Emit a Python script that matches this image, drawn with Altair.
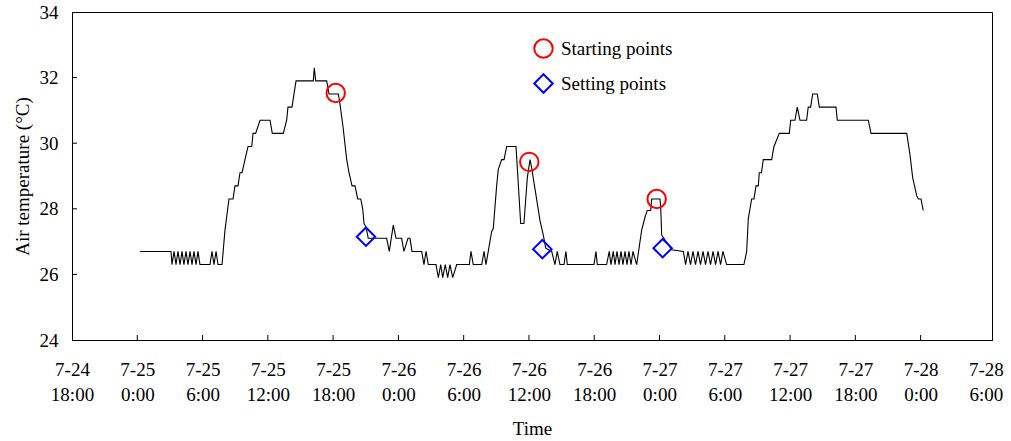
import altair as alt
import pandas as pd

# Hours counted from 7-24 18:00
line_hours = [6.25, 9.10, 9.19, 9.38, 9.56, 9.74, 9.93, 10.11, 10.29, 10.48, 10.66, 10.85, 11.03, 11.21,
              11.40, 11.58, 11.76, 12.68, 12.87, 13.05, 13.24, 13.42, 13.79, 14.06, 14.43, 14.80, 14.98,
              15.26, 15.44, 15.63, 15.90, 16.18, 16.52, 16.64, 16.88, 17.28, 18.20, 18.41, 19.42, 19.73,
              19.85, 20.22, 20.59, 22.18, 22.27, 22.40, 23.41, 23.62, 24.48, 24.63, 24.91, 25.25, 25.46,
              25.74, 26.01, 26.26, 26.54, 26.72, 26.84, 27.02, 27.23, 28.92, 29.16, 29.53, 29.78, 30.30,
              30.51, 30.88, 31.07, 31.25, 32.14, 32.35, 32.54, 32.75, 33.46, 33.67, 33.89, 34.07, 34.31,
              34.53, 34.74, 34.99, 35.36, 36.52, 36.67, 36.88, 37.66, 37.87, 38.05, 38.26, 38.57, 38.72,
              39.03, 39.18, 39.49, 39.71, 39.95, 40.81, 40.93, 41.24, 41.54, 41.85, 42.10, 42.25, 42.56,
              43.01, 43.32, 43.54, 44.09, 44.39, 44.60, 44.85, 45.22, 45.40, 45.52, 47.98, 48.16, 48.28,
              49.14, 49.38, 49.54, 49.75, 49.91, 50.09, 50.28, 50.46, 50.64, 50.83, 51.01, 51.19, 51.38,
              51.56, 51.90, 52.36, 52.67, 52.88, 53.19, 53.28, 54.04, 54.11, 54.20, 55.12, 56.19, 56.40,
              56.62, 56.85, 57.08, 57.31, 57.54, 57.77, 58.00, 58.23, 58.46, 58.69, 58.92, 59.15, 59.38,
              59.61, 59.83, 60.17, 61.76, 62.01, 62.16, 62.47, 62.68, 62.87, 63.08, 63.17, 63.37, 63.54,
              64.31, 64.52, 65.01, 65.93, 66.06, 66.45, 66.66, 66.91, 67.52, 67.67, 67.89, 68.08, 68.50,
              68.69, 70.22, 70.34, 73.19, 73.44, 76.72, 77.02, 77.27, 77.64, 77.79, 78.03, 78.24]
line_temp = [26.7, 26.7, 26.3, 26.7, 26.3, 26.7, 26.3, 26.7, 26.3, 26.7, 26.3, 26.7, 26.3, 26.7,
             26.3, 26.7, 26.3, 26.3, 26.7, 26.3, 26.7, 26.3, 26.3, 27.35, 28.3, 28.3, 28.7,
             28.7, 29.1, 29.1, 29.5, 29.9, 29.9, 30.3, 30.3, 30.7, 30.7, 30.3, 30.3, 30.7,
             31.1, 31.1, 31.9, 31.9, 32.3, 31.9, 31.9, 31.5, 31.5, 31.2, 30.5, 29.5, 29.1,
             28.7, 28.7, 28.3, 28.3, 28.0, 27.55, 27.45, 27.1, 27.1, 26.7, 27.5, 27.1, 27.1,
             26.7, 27.1, 27.1, 26.7, 26.7, 26.3, 26.7, 26.3, 26.3, 25.9, 26.3, 25.9, 26.3,
             25.9, 26.3, 25.9, 26.3, 26.3, 26.7, 26.3, 26.3, 26.7, 26.3, 26.7, 27.3, 27.4,
             28.7, 29.2, 29.5, 29.5, 29.9, 29.9, 29.25, 27.55, 27.55, 28.95, 29.5, 29.25, 28.6,
             27.65, 27.2, 26.8, 26.7, 26.3, 26.7, 26.3, 26.3, 26.7, 26.3, 26.3, 26.7, 26.3,
             26.3, 26.7, 26.3, 26.7, 26.3, 26.7, 26.3, 26.7, 26.3, 26.7, 26.3, 26.7, 26.3,
             26.7, 26.3, 27.35, 27.75, 27.95, 27.95, 28.3, 28.3, 28.05, 27.2, 26.75, 26.7, 26.3,
             26.7, 26.3, 26.7, 26.3, 26.7, 26.3, 26.7, 26.3, 26.7, 26.3, 26.7, 26.3, 26.7,
             26.3, 26.7, 26.3, 26.3, 26.7, 27.7, 28.3, 28.3, 28.7, 28.7, 29.1, 29.1, 29.5,
             29.5, 29.9, 30.3, 30.3, 30.7, 30.7, 31.1, 30.7, 30.7, 31.1, 31.1, 31.5, 31.5,
             31.1, 31.1, 30.7, 30.7, 30.3, 30.3, 29.65, 28.95, 28.4, 28.3, 28.3, 27.95]

start_hours = [24.24, 42.03, 53.74]
start_temp = [31.53, 29.43, 28.3]
set_hours = [27.02, 43.23, 54.29]
set_temp = [27.15, 26.77, 26.8]
kinds = ["Starting points", "Setting points"]

x_tick_hours = [0, 6, 12, 18, 24, 30, 36, 42, 48, 54, 60, 66, 72, 78, 84]
y_tick_values = [24, 26, 28, 30, 32, 34]

FONT = "Liberation Serif"

line_df = pd.DataFrame({"h": line_hours, "t": line_temp})
mk_df = pd.DataFrame({
    "h": start_hours + set_hours,
    "t": start_temp + set_temp,
    "kind": [kinds[0]] * len(start_hours) + [kinds[1]] * len(set_hours),
})
xt_df = pd.DataFrame({"h": x_tick_hours[1:-1]})
yt_df = pd.DataFrame({"t": y_tick_values[1:-1]})

x_scale = alt.Scale(domain=[0, 84.56], nice=False, zero=False)
y_scale = alt.Scale(domain=[24, 34], nice=False, zero=False)

label_expr = "['7-' + (24 + floor((datum.value + 18) / 24)), ((datum.value + 18) % 24) + ':00']"

line = alt.Chart(line_df).mark_line(color="black", strokeWidth=1.1).encode(
    x=alt.X("h:Q", scale=x_scale,
            axis=alt.Axis(values=x_tick_hours, title="Time", labelExpr=label_expr, ticks=False,
                          grid=False, labelPadding=20, titlePadding=15, labelLineHeight=25,
                          labelAngle=0, labelFlush=False, labelOverlap=False)),
    y=alt.Y("t:Q", scale=y_scale,
            axis=alt.Axis(values=y_tick_values, title="Air temperature (°C)", ticks=False,
                          grid=False, labelPadding=14, titlePadding=7)),
)

legend = alt.Legend(title=None, orient="none", legendX=461, legendY=26, labelFont=FONT,
                    labelFontSize=19, labelColor="black", symbolStrokeWidth=2, symbolSize=340,
                    rowPadding=8, labelOffset=7)

points = alt.Chart(mk_df).mark_point(filled=False, strokeWidth=2, size=340, opacity=1).encode(
    x=alt.X("h:Q", scale=x_scale),
    y=alt.Y("t:Q", scale=y_scale),
    shape=alt.Shape("kind:N", scale=alt.Scale(domain=kinds, range=["circle", "diamond"]), legend=legend),
    color=alt.Color("kind:N", scale=alt.Scale(domain=kinds, range=["#ff0000", "#0000ff"]), legend=legend),
)

xticks = alt.Chart(xt_df).mark_rule(color="black", strokeWidth=1).encode(
    x=alt.X("h:Q", scale=x_scale, title="Time"),
    y=alt.value(323), y2=alt.value(328),
)
yticks = alt.Chart(yt_df).mark_rule(color="black", strokeWidth=1).encode(
    y=alt.Y("t:Q", scale=y_scale, title="Air temperature (°C)"),
    x=alt.value(0), x2=alt.value(5),
)

chart = alt.layer(line, xticks, yticks, points).properties(
    width=920, height=328,
    padding={"left": 72, "top": 12, "right": 19, "bottom": 101},
    autosize=alt.AutoSizeParams(type="none"),
).configure(font=FONT).configure_view(
    stroke="black", strokeWidth=1
).configure_axis(
    domainColor="black", labelColor="black", titleColor="black", labelFont=FONT, titleFont=FONT,
    labelFontSize=19, titleFontSize=19, titleFontWeight="normal", domainWidth=1,
)

chart.save("out.html", embed_options={"renderer": "svg", "actions": False})
